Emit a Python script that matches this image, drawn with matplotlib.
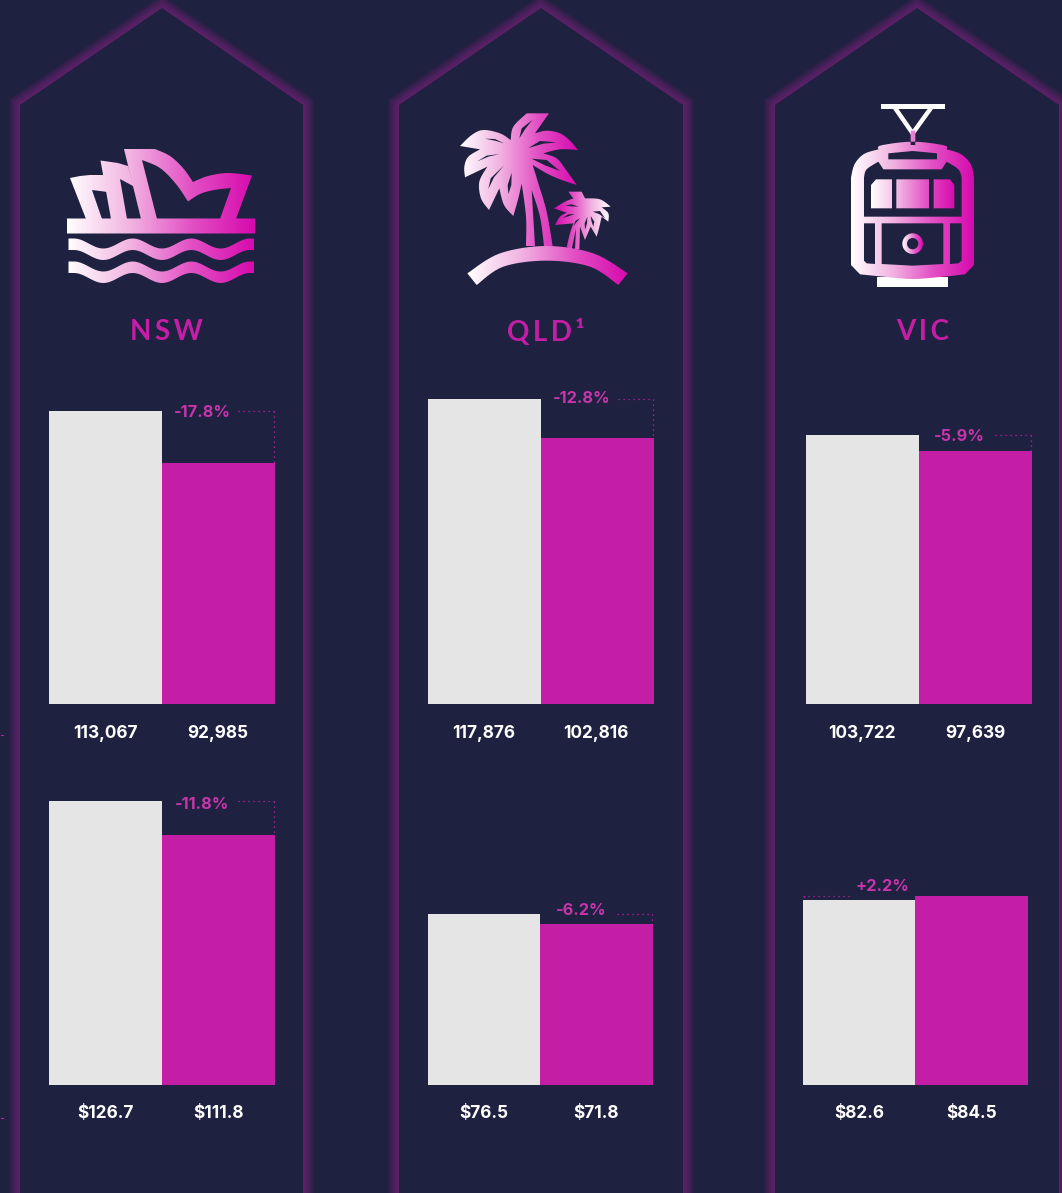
import numpy as np
import matplotlib
matplotlib.use("Agg")
import matplotlib.pyplot as plt
from matplotlib.path import Path
from matplotlib.patches import PathPatch, Polygon, Circle
from matplotlib.colors import LinearSegmentedColormap

# ---------- data ----------
states = ["NSW", "QLD¹", "VIC"]
row1_prev = [113067, 117876, 103722]
row1_curr = [92985, 102816, 97639]
row1_labels = [["113,067", "92,985"], ["117,876", "102,816"], ["103,722", "97,639"]]
row1_change = ["-17.8%", "-12.8%", "-5.9%"]
row2_prev = [126.7, 76.5, 82.6]
row2_curr = [111.8, 71.8, 84.5]
row2_labels = [["$126.7", "$111.8"], ["$76.5", "$71.8"], ["$82.6", "$84.5"]]
row2_change = ["-11.8%", "-6.2%", "+2.2%"]

# ---------- style / layout ----------
W, H = 1062, 1193
BG = "#1e2140"
PINK = "#c41ea6"
LABEL = "#c735ab"
GREY = "#e5e5e5"
FONT = ["Inter", "DejaVu Sans"]
TITLE_FONT = ["Lato", "DejaVu Sans"]
PX = 0.72

fig = plt.figure(figsize=(W / 100, H / 100), dpi=100, facecolor=BG)
bgax = fig.add_axes([0, 0, 1, 1], zorder=0)
bgax.set_xlim(0, W)
bgax.set_ylim(H, 0)
bgax.axis("off")

grad_img = np.linspace(0, 1, 256)[None, :]
cm = LinearSegmentedColormap.from_list("g", ["#ffffff", "#f2b4e2", "#e24fc4", "#d70aae"])


def gradient(points_list, x0, x1, reverse=False, ytop=0, ybot=H, z=3):
    verts, codes = [], []
    for pts in points_list:
        pts = list(pts)
        verts += pts + [pts[0]]
        codes += [Path.MOVETO] + [Path.LINETO] * (len(pts) - 1) + [Path.CLOSEPOLY]
    path = Path(verts, codes)
    patch = PathPatch(path, transform=bgax.transData, fc="none", ec="none")
    bgax.add_patch(patch)
    im = bgax.imshow(grad_img[:, ::-1] if reverse else grad_img, cmap=cm, aspect="auto",
                     extent=[x0, x1, ybot, ytop], zorder=z, interpolation="bilinear")
    im.set_clip_path(patch)
    bgax.set_xlim(0, W)
    bgax.set_ylim(H, 0)


def hole(pts, z=4):
    bgax.add_patch(Polygon(pts, closed=True, fc=BG, ec="none", zorder=z))


def smooth(pts, n=8):
    """Catmull-Rom through hand-traced outline points of an icon."""
    p = np.array(pts, float)
    out = []
    for i in range(len(p) - 1):
        a = p[max(i - 1, 0)]; b = p[i]; c = p[i + 1]; d = p[min(i + 2, len(p) - 1)]
        for t in np.linspace(0, 1, n, endpoint=False):
            out.append(0.5 * (2 * b + (c - a) * t + (2 * a - 5 * b + 4 * c - d) * t ** 2
                              + (3 * b - a - 3 * c + d) * t ** 3))
    out.append(p[-1])
    return [tuple(q) for q in out]


def sections(*secs):
    out = []
    for s in secs:
        out += smooth(s) if len(s) > 2 else list(s)
    return out


# ---------- panels ----------
for (l, m, r) in [(20, 162, 303), (399, 541, 683), (775, 917, 1059)]:
    outline = [(l, H + 40), (l, 105), (m, 8), (r, 105), (r, H + 40)]
    xs, ys = zip(*outline)
    for w in np.arange(2, 24, 1.0):
        bgax.plot(xs, ys, color="#a8209c", lw=w * PX, alpha=0.032, solid_joinstyle="miter", zorder=1)
    bgax.add_patch(Polygon(outline, closed=True, fc=BG, ec="none", zorder=2))

# stray marks on the left edge
bgax.plot([1, 3], [735, 735], color=PINK, lw=0.8, zorder=2)
bgax.plot([1, 3], [1118, 1118], color=PINK, lw=0.8, zorder=2)

# ---------- NSW icon ----------
shell3 = [(124, 149), (155, 149)] + smooth([(155, 149), (170, 156), (183, 168), (193, 182)])[1:] + \
    smooth([(193, 182), (208, 176), (228, 173), (252, 175.5)])[1:] + [(236, 219), (220, 219), (231, 188)] + \
    smooth([(231, 188), (214, 190), (200, 194), (188, 201.5)])[1:] + \
    smooth([(188, 201.5), (176, 184), (160, 168), (142, 160)])[1:] + [(157, 219), (141, 219)]
shell2 = [(100.5, 160.5), (118, 163), (128, 166), (133, 186), (120, 179), (127, 219), (111, 219)]
shell1 = [(70, 178), (80, 176), (90, 175), (103, 175), (107.5, 192), (92, 190), (102, 219), (86, 219)]
base = [(67, 218.5), (255, 218.5), (255, 233.5), (67, 233.5)]


def wave(ytop, thick):
    x = np.linspace(68.5, 254, 90)
    ph = np.clip((x - 74) / (250 - 74), 0, 1) * 3 * 2 * np.pi
    top = ytop + 5 - 5 * np.cos(ph)
    return list(zip(x, top)) + list(zip(x[::-1], (top + thick)[::-1]))


gradient([shell1, shell2, shell3, base, wave(238.5, 11.5), wave(261.5, 11.5)], 67, 255)

# ---------- QLD icon ----------
def z2(pts):
    return [(400 + x / 3, 90 + y / 3) for x, y in pts]


palm = sections(
    [(380, 70), (447, 70)], [(447, 70), (405, 130)],
    [(405, 130), (440, 122), (480, 130), (510, 152), (534, 180)],
    [(534, 180), (480, 178), (430, 190)],
    [(430, 190), (470, 205), (497, 238), (530, 285)],
    [(530, 285), (480, 268), (440, 250), (398, 225)],
    [(398, 225), (415, 280), (440, 365), (458, 468)],
    [(458, 468), (432, 468)], [(432, 468), (420, 380), (395, 300)],
    [(395, 300), (405, 468)], [(405, 468), (378, 468)],
    [(378, 468), (378, 380), (365, 280)],
    [(365, 280), (355, 325), (340, 378)],
    [(340, 378), (312, 345), (298, 295)],
    [(298, 295), (267, 360)],
    [(267, 360), (243, 325), (238, 275), (262, 230)],
    [(262, 230), (195, 262)],
    [(195, 262), (193, 230), (205, 200), (240, 178)],
    [(240, 178), (180, 168)],
    [(180, 168), (215, 135), (250, 120), (300, 130), (332, 150)],
    [(332, 150), (340, 110), (380, 70)])
small = sections(
    [(505, 305), (545, 305)], [(545, 305), (555, 325)],
    [(555, 325), (600, 328), (632, 350)], [(632, 350), (605, 352)],
    [(605, 352), (625, 370), (625, 395)], [(625, 395), (605, 380)],
    [(605, 380), (597, 415), (590, 440)], [(590, 440), (572, 410)],
    [(572, 410), (555, 450)], [(555, 450), (540, 410)],
    [(540, 410), (538, 478)], [(538, 478), (525, 478)], [(525, 478), (528, 415)],
    [(528, 415), (515, 478)], [(515, 478), (500, 472)], [(500, 472), (510, 430), (520, 400)],
    [(520, 400), (465, 405)], [(465, 405), (480, 380), (500, 368)],
    [(500, 368), (462, 355)], [(462, 355), (495, 335), (520, 325)])
outer = smooth([(202, 550), (300, 490), (440, 468), (580, 490), (683, 550)])
inner = smooth([(655, 585), (570, 530), (440, 512), (310, 530), (230, 585)])
gradient([z2(palm)], 460, 578)
gradient([z2(small)], 554, 611, reverse=True)
gradient([z2(outer + inner)], 467, 628)
for s in [[(255, 146), (285, 147), (312, 160), (285, 152)],
          [(385, 174), (420, 153), (470, 157), (430, 161)],
          [(232, 214), (260, 197), (298, 192), (265, 200)],
          [(395, 206), (440, 210), (480, 243), (435, 226)],
          [(265, 297), (272, 265), (312, 226), (282, 262)],
          [(325, 312), (323, 285), (335, 248), (334, 285)],
          [(358, 145), (365, 115), (397, 90), (375, 118)],
          [(495, 346), (515, 343), (535, 350), (512, 349)],
          [(487, 384), (505, 373), (524, 372), (505, 379)],
          [(520, 408), (527, 392), (540, 385), (531, 395)],
          [(555, 420), (554, 400), (562, 380), (561, 400)],
          [(580, 410), (574, 392), (572, 378), (583, 395)],
          [(578, 365), (600, 363), (615, 385), (597, 372)]]:
    hole(z2(s))

# ---------- VIC icon ----------
def z3(pts):
    return [(800 + x / 3, 90 + y / 3) for x, y in pts]


bgax.add_patch(Polygon(z3([(243, 43), (435, 43), (435, 58), (243, 58)]), fc="white", ec="none", zorder=3))
bgax.plot(*zip(*z3([(288, 58), (338, 130), (390, 58)])), color="white", lw=3.4 * PX * 1.3, zorder=3,
          solid_joinstyle="miter")
bgax.add_patch(Polygon(z3([(231, 562), (444, 562), (444, 590), (231, 590)]), fc="white", ec="none", zorder=3))
body = sections(
    [(153, 525), (180, 553)],
    [(180, 553), (250, 560), (338, 567), (430, 560), (495, 553)],
    [(495, 553), (522, 525)], [(522, 525), (522, 262)],
    [(522, 262), (512, 222), (482, 192), (440, 178)],
    [(440, 178), (432, 166), (338, 155), (244, 166), (235, 178)],
    [(235, 178), (192, 192), (164, 222), (153, 262)])
gradient([z3(body), z3([(332, 122), (346, 122), (346, 165), (332, 165)])], 851, 974)
up_hole = sections(
    [(192, 262), (200, 238), (235, 215)],
    [(235, 215), (250, 238)], [(250, 238), (425, 238)], [(425, 238), (440, 215)],
    [(440, 215), (475, 238), (485, 262)], [(485, 262), (485, 380)], [(485, 380), (192, 380)])
for s in [up_hole,
          [(192, 400), (225, 400), (225, 522), (200, 520), (192, 512)],
          [(245, 400), (430, 400), (430, 522), (338, 527), (245, 522)],
          [(450, 400), (485, 400), (485, 512), (475, 520), (450, 522)],
          [(265, 190), (338, 183), (411, 190), (411, 208), (265, 208)]]:
    hole(z3(s))
gradient([z3([(213, 355), (213, 285), (228, 268), (276, 268), (276, 355)]),
          z3([(289, 268), (387, 268), (387, 355), (289, 355)]),
          z3([(401, 268), (450, 268), (463, 285), (463, 355), (401, 355)])], 871, 955, z=5)
th = np.linspace(0, 2 * np.pi, 60)
ring = [(338 + 31 * np.cos(t), 461 + 31 * np.sin(t)) for t in th]
gradient([z3(ring)], 902, 923, z=5)
bgax.add_patch(Circle((800 + 338 / 3, 90 + 461 / 3), 17 / 3, fc=BG, ec="none", zorder=6))

# ---------- titles ----------
for name, cx in zip(states, [166, 546, 923]):
    bgax.text(cx, 330, "\u2009".join(name), ha="center", va="center_baseline",
              color=PINK, fontsize=20, family=TITLE_FONT, fontweight="bold", zorder=7)


# ---------- bars ----------
def draw_group(left, mid, right, base_y, scale, prev, curr, labels, change, lab_cx, pct_cx, pct_y, dots, lab_y):
    top_px = base_y - 345
    ax = fig.add_axes([left / W, 1 - base_y / H, (right - left) / W, (base_y - top_px) / H], zorder=2)
    ax.patch.set_alpha(0)
    ax.axis("off")
    split = (mid - left) / (right - left)
    ax.set_xlim(0, 1)
    ax.set_ylim(0, (base_y - top_px) / scale)
    ax.bar(split / 2, prev, width=split, color=GREY)
    ax.bar((1 + split) / 2, curr, width=1 - split, color=PINK)
    fx = lambda px: (px - left) / (right - left)
    vy = max(prev, curr)
    for txt, cx in zip(labels, lab_cx):
        ax.annotate(txt, xy=(fx(cx), 0), xytext=(0, -(lab_y - base_y) * PX), textcoords="offset points",
                    ha="center", va="center", color="white", fontsize=12.4, family=FONT, fontweight="bold",
                    annotation_clip=False)
    ax.annotate(change, xy=(fx(pct_cx), vy), xytext=(0, (base_y - vy * scale - pct_y) * PX), textcoords="offset points",
                ha="center", va="center", color=LABEL, fontsize=11.8, family=FONT, fontweight="bold",
                annotation_clip=False)
    kw = dict(color=PINK, lw=0.9, ls=(0, (1, 3)), clip_on=False)
    x0, x1, xv = dots
    ax.plot([fx(x0), fx(x1)], [vy, vy], **kw)
    ax.plot([fx(xv), fx(xv)], [vy, min(prev, curr)], **kw)


R1 = 0.00259
R2 = 2.24
lay1 = [(49, 162, 275, (105.5, 218), 202, 412.5, (238, 274, 274)),
        (428, 541, 654, (484, 596), 581.5, 398.5, (618, 653, 653)),
        (806, 919, 1032, (862, 975), 959.5, 436.5, (995, 1031, 1031))]
lay2 = [(49, 162, 275, (105.5, 218), 202.5, 804.5, (238, 274, 274)),
        (428, 540, 653, (484, 596.5), 581, 910.5, (617, 652, 652)),
        (803, 915, 1028, (859, 972), 882.5, 886.5, (803, 852, 803.5))]
for i in range(3):
    l, m, r, lc, pc, py, d = lay1[i]
    draw_group(l, m, r, 704, R1, row1_prev[i], row1_curr[i], row1_labels[i], row1_change[i], lc, pc, py, d, 733)
    l, m, r, lc, pc, py, d = lay2[i]
    draw_group(l, m, r, 1085, R2, row2_prev[i], row2_curr[i], row2_labels[i], row2_change[i], lc, pc, py, d, 1114)

fig.savefig("out.png", dpi=100, facecolor=BG)
